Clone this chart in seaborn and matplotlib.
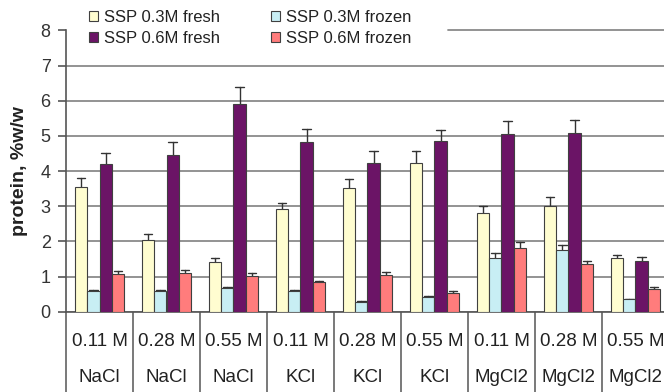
import numpy as np
import pandas as pd
import matplotlib
matplotlib.use("Agg")
import matplotlib.pyplot as plt
from matplotlib.patches import Patch
import seaborn as sns

# ---- data ----
concs = ["0.11 M", "0.28 M", "0.55 M", "0.11 M", "0.28 M", "0.55 M", "0.11 M", "0.28 M", "0.55 M"]
salts = ["NaCl", "NaCl", "NaCl", "KCl", "KCl", "KCl", "MgCl2", "MgCl2", "MgCl2"]
series = ["SSP 0.3M fresh", "SSP 0.3M frozen", "SSP 0.6M fresh", "SSP 0.6M frozen"]

fresh03 = [3.54, 2.04, 1.40, 2.92, 3.51, 4.24, 2.80, 3.00, 1.52]
fresh03_err = [0.25, 0.17, 0.12, 0.18, 0.25, 0.33, 0.20, 0.25, 0.08]
frozen03 = [0.60, 0.59, 0.67, 0.60, 0.28, 0.42, 1.54, 1.75, 0.35]
frozen03_err = [0.03, 0.03, 0.03, 0.03, 0.02, 0.02, 0.12, 0.15, 0.02]
fresh06 = [4.19, 4.47, 5.92, 4.84, 4.24, 4.85, 5.04, 5.07, 1.44]
fresh06_err = [0.33, 0.35, 0.47, 0.35, 0.33, 0.33, 0.37, 0.37, 0.12]
frozen06 = [1.06, 1.11, 1.01, 0.84, 1.05, 0.54, 1.82, 1.37, 0.65]
frozen06_err = [0.10, 0.09, 0.08, 0.04, 0.08, 0.04, 0.15, 0.08, 0.06]

colors = ["#FFFDD0", "#C8EEF4", "#6B1466", "#FF7C7C"]

values = [fresh03, frozen03, fresh06, frozen06]
errors = [fresh03_err, frozen03_err, fresh06_err, frozen06_err]

groups = [f"{c}\n{s}" for c, s in zip(concs, salts)]

rows = []
for name, vals, errs in zip(series, values, errors):
    for g, v, e in zip(groups, vals, errs):
        rows.append({"group": g, "series": name, "value": v - e})
        rows.append({"group": g, "series": name, "value": v + e})
df = pd.DataFrame(rows)

sns.set_style("white")
plt.rcParams["font.family"] = ["Liberation Sans", "DejaVu Sans"]

fig = plt.figure(figsize=(6.64, 3.92), dpi=100)
ax = fig.add_axes([66 / 664, 80.3 / 392, 603 / 664, 281.3 / 392])

sns.barplot(data=df, x="group", y="value", hue="series", order=groups,
            hue_order=series, palette=colors, width=0.73, gap=0,
            errorbar=lambda x: (x.min(), x.max()), capsize=0.5,
            err_kws={"color": "#333333", "linewidth": 1.0},
            edgecolor="#404040", linewidth=0.8, saturation=1, ax=ax,
            legend=False, zorder=3)

ax.set_ylim(0, 8)
ax.set_xlim(-0.5, 8.5)
ax.set_yticks(range(0, 9))
ax.yaxis.grid(True, color="#8a8a8a", linewidth=1.3, zorder=0)
ax.set_axisbelow(True)
# top gridline is hidden behind the legend box on the left part
ax.yaxis.get_gridlines()[-1].set_visible(False)
ax.axhline(8, xmin=(448 - 66) / 603, xmax=1, color="#8a8a8a", linewidth=1.3,
           zorder=0, clip_on=False)
for s in ["top", "right"]:
    ax.spines[s].set_visible(False)
ax.spines["left"].set_color("#555555")
ax.spines["bottom"].set_color("#555555")
ax.spines["left"].set_linewidth(1.2)
ax.spines["bottom"].set_linewidth(1.2)

ax.tick_params(axis="y", direction="out", length=6, width=1.2, color="#555555",
               labelsize=13, labelcolor="#333333", left=True, pad=5)
ax.tick_params(axis="x", which="major", length=0, labelsize=13.5,
               labelcolor="#222222", pad=15)
for lbl in ax.get_xticklabels():
    lbl.set_linespacing(2.5)
ax.set_xticks(np.arange(-0.5, 9, 1), minor=True)
ax.tick_params(axis="x", which="minor", length=60, width=1.1, color="#555555",
               direction="out", bottom=True)

ax.set_xlabel("")
ax.set_ylabel("protein, %w/w", fontsize=14, fontweight="bold", color="#222222")
ax.yaxis.set_label_coords(-38 / 603, 0.5)

handles = [Patch(facecolor=c, edgecolor="#404040", linewidth=0.8) for c in colors]
order = [0, 2, 1, 3]
leg = fig.legend([handles[i] for i in order], [series[i] for i in order],
                 ncol=2, loc="upper left", bbox_to_anchor=(84 / 664, 1 - 5 / 392),
                 fontsize=12, frameon=False,
                 handlelength=0.55, handleheight=0.55,
                 handletextpad=0.35, columnspacing=3.05, labelspacing=0.36,
                 borderpad=0.3, borderaxespad=0, labelcolor="#222222")

fig.savefig("out.png", dpi=100)
